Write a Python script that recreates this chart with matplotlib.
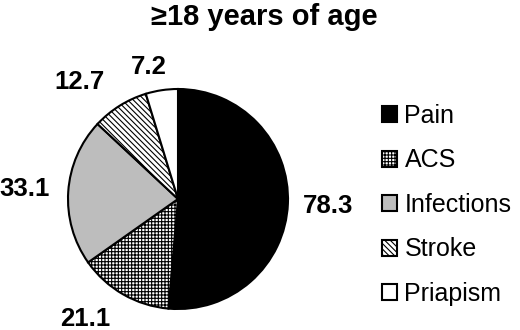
import numpy as np
import matplotlib
matplotlib.use("Agg")
import matplotlib.pyplot as plt

plt.rcParams['font.family'] = ['Liberation Sans', 'DejaVu Sans']
plt.rcParams['hatch.linewidth'] = 0.8

# Data
categories = ['Pain', 'ACS', 'Infections', 'Stroke', 'Priapism']
values = [78.3, 21.1, 33.1, 12.7, 7.2]
title = '\u226518 years of age'

# Style
colors = ['black', 'white', '#bdbdbd', 'white', 'white']
hatches = ['', '+++++', '', '\\' * 6, '']
label_dist = [1.37, 1.38, 1.40, 1.39, 1.23]   # in pie radii
label_shift = [0, -8, 0, 8, 4]                  # degrees off the wedge middle

fig = plt.figure(figsize=(5.2, 3.3), dpi=100)

# square axes centred on the pie (radius ~110 px)
cx, cy, half = 178, 199, 150
ax = fig.add_axes([(cx - half) / 520, (330 - cy - half) / 330, 2 * half / 520, 2 * half / 330])

wedges, _ = ax.pie(values, colors=colors, startangle=90, counterclock=False,
                   wedgeprops=dict(edgecolor='black', linewidth=1.5), frame=True)
lim = half / 110
ax.set_xlim(-lim, lim)
ax.set_ylim(-lim, lim)
ax.set_aspect('equal')
ax.axis('off')

for w, h, v, d, s in zip(wedges, hatches, values, label_dist, label_shift):
    w.set_hatch(h)
    ang = np.deg2rad((w.theta1 + w.theta2) / 2 + s)
    ax.text(d * np.cos(ang), d * np.sin(ang), f"{v:.1f}", ha='center', va='center',
            fontsize=18.5, fontweight='bold', clip_on=False)

fig.text(0.508, 1 - 25 / 330, title, ha='center', va='baseline', fontsize=21, fontweight='bold')

fig.legend(wedges, categories, loc='upper left', bbox_to_anchor=(382 / 520, 0.685),
           frameon=False, fontsize=18, handlelength=0.6, handleheight=0.6,
           handletextpad=0.3, labelspacing=0.82, borderaxespad=0, borderpad=0)

fig.savefig('out.png', dpi=100)
